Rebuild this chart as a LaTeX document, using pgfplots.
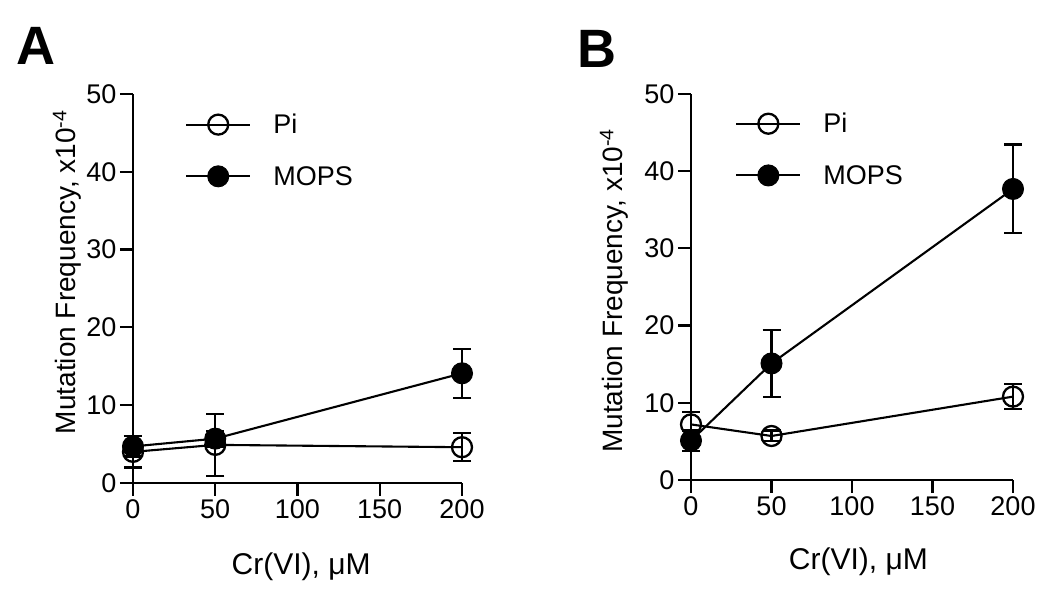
\documentclass[border=0pt]{standalone}
\usepackage{fontspec}
\setmainfont{Liberation Sans}
\usepackage{pgfplots}
\pgfplotsset{compat=1.18}
\pgfplotsset{
 prism/.style={
  scale only axis,
  xmin=0,xmax=200,ymin=0,ymax=50,
  axis lines=left,
  axis line style={-, line width=2.4pt},
  tick align=outside,
  major tick length=13pt,
  every tick/.style={line width=2.2pt, black},
  xtick={0,50,100,150,200},
  ytick={0,10,...,50},
  ticklabel style={font=\fontsize{27}{30}\selectfont},
  /pgf/number format/assume math mode=true,
  ylabel style={font=\fontsize{28}{32}\selectfont},
  xlabel style={font=\fontsize{30}{34}\selectfont},
  clip=false,
  legend style={draw=none, fill=none, font=\fontsize{27}{31}\selectfont, legend cell align=left, row sep=27pt, inner sep=0pt,
     /tikz/every odd column/.append style={column sep=20pt}},
  legend image code/.code={\draw[mark repeat=2,mark phase=2,##1] plot coordinates {(0pt,0pt) (32pt,0pt) (64pt,0pt)};},
 },
 eb/.style={/pgfplots/error bars/y dir=both, /pgfplots/error bars/y explicit,
   /pgfplots/error bars/error bar style={line width=2.2pt, black},
   /pgfplots/error bars/error mark options={rotate=90, mark size=9pt, line width=2.2pt, black}},
 pistyle/.style={black, line width=2.1pt, mark=o, mark size=10pt, mark options={solid, line width=2.3pt}, eb},
 mopsstyle/.style={black, line width=2.1pt, mark=*, mark size=10.5pt, mark options={solid, fill=black, line width=1pt}, eb},
}
\begin{document}
\begin{tikzpicture}[x=1pt,y=1pt]
\useasboundingbox (0pt,0pt) rectangle (1050pt,591pt);
\node[font=\fontsize{54}{54}\selectfont\bfseries, anchor=base west, inner sep=0pt] at (16pt,526pt) {A};
\node[font=\fontsize{54}{54}\selectfont\bfseries, anchor=base west, inner sep=0pt] at (577pt,523pt) {B};

\begin{axis}[prism, at={(133pt,108pt)}, anchor=south west, width=329pt, height=389pt,
  xlabel={Cr(VI), μM},
  ylabel={Mutation Frequency, x10\textsuperscript{-4}},
  xlabel style={at={(axis description cs:0.511,-0.2365)}, anchor=base},
  ylabel style={at={(axis description cs:-0.2006,0.542)}, anchor=center},
  legend style={at={(axis description cs:0.158,0.954)}, anchor=north west},
]
\addplot[pistyle] table[x=x, y=y, y error=e] {
x y e
0 4.0 2.0
50 4.9 4.0
200 4.6 1.8
};
\addlegendentry{Pi}
\addplot[mopsstyle] table[x=x, y=y, y error=e] {
x y e
0 4.7 1.3
50 5.7 1.0
200 14.1 3.15
};
\addlegendentry{MOPS}
\end{axis}

\begin{axis}[prism, at={(691pt,111pt)}, anchor=south west, width=322pt, height=386pt,
  xlabel={Cr(VI), μM},
  ylabel={Mutation Frequency, x10\textsuperscript{-4}},
  xlabel style={at={(axis description cs:0.52,-0.2306)}, anchor=base},
  ylabel style={at={(axis description cs:-0.239,0.49)}, anchor=center},
  legend style={at={(axis description cs:0.137,0.956)}, anchor=north west},
]
\addplot[pistyle] table[x=x, y=y, y error=e] {
x y e
0 7.2 1.6
50 5.7 0.7
200 10.8 1.6
};
\addlegendentry{Pi}
\addplot[mopsstyle] table[x=x, y=y, y error=e] {
x y e
0 5.1 1.3
50 15.1 4.3
200 37.7 5.75
};
\addlegendentry{MOPS}
\end{axis}
\end{tikzpicture}
\end{document}
